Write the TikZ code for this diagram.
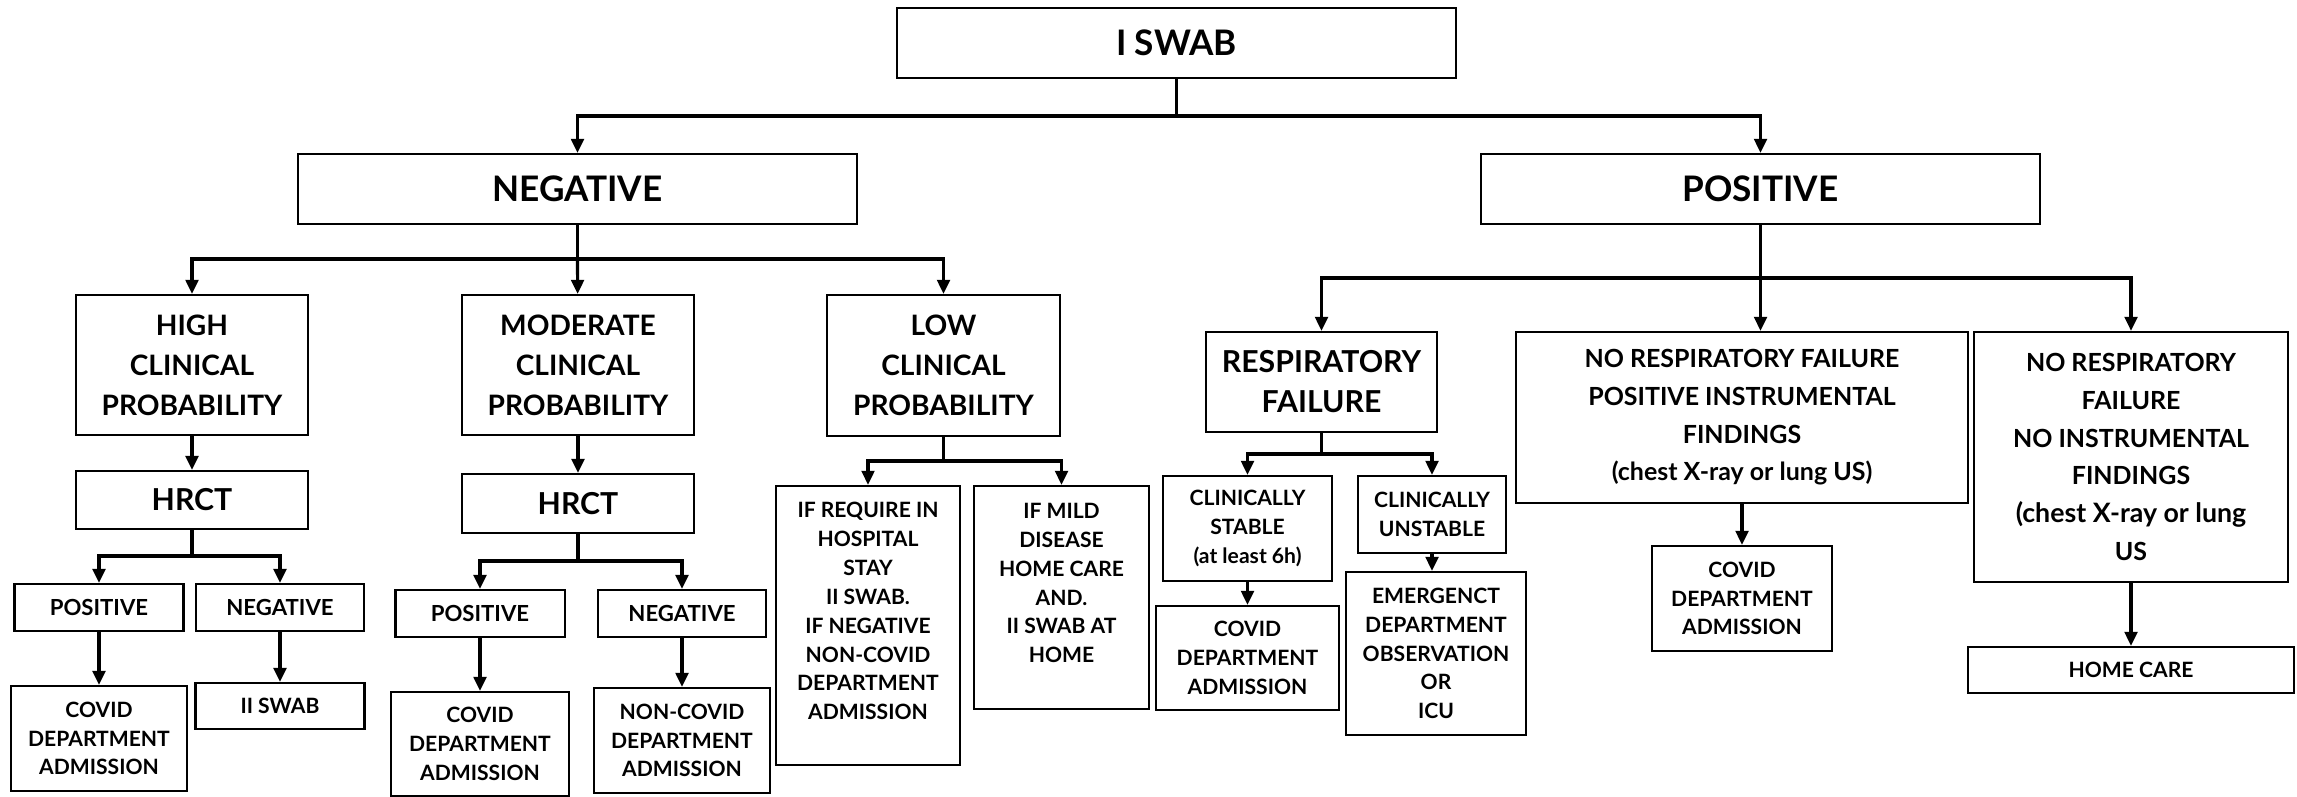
\documentclass[tikz,border=0pt]{standalone}
\usepackage{fontspec}
\setmainfont{Lato}
\usetikzlibrary{arrows.meta}

\begin{document}
\begin{tikzpicture}[x=0.01cm,y=-0.01cm,
    box/.style={draw,line width=0.6pt,align=center,inner sep=1pt},
    bigbox/.style={box,font=\fontsize{10}{12}\selectfont\bfseries},
    probbox/.style={box,font=\fontsize{8}{11.4}\selectfont\bfseries},
    hrctbox/.style={box,font=\fontsize{8.6}{11.4}\selectfont\bfseries},
    findbox/.style={box,font=\fontsize{7.1}{10.7}\selectfont\bfseries},
    resbox/.style={box,font=\fontsize{6.3}{8.2}\selectfont\bfseries},
    smallbox/.style={box,font=\fontsize{6}{8.2}\selectfont\bfseries},
    wire/.style={line width=0.9pt},
    arr/.style={wire,-{Triangle[length=4pt,width=3.6pt]}}]
\useasboundingbox (0,0) rectangle (2297,797);

% first swab
\node[bigbox,minimum width=5.59cm,minimum height=0.70cm] (iswab) at (1176.5,43) {I SWAB};
\node[bigbox,minimum width=5.59cm,minimum height=0.70cm] (neg) at (577.5,189) {NEGATIVE};
\node[bigbox,minimum width=5.59cm,minimum height=0.70cm] (pos) at (1760.5,189) {POSITIVE};

% negative swab
\node[probbox,minimum width=2.31cm,minimum height=1.40cm] (high) at (192,365) {HIGH\\CLINICAL\\PROBABILITY};
\node[probbox,minimum width=2.31cm,minimum height=1.40cm] (moder) at (578,365) {MODERATE\\CLINICAL\\PROBABILITY};
\node[probbox,minimum width=2.33cm,minimum height=1.41cm] (low) at (943.5,365.5) {LOW\\CLINICAL\\PROBABILITY};
\node[hrctbox,minimum width=2.31cm,minimum height=0.58cm] (hrcth) at (192,500) {HRCT};
\node[hrctbox,minimum width=2.31cm,minimum height=0.59cm] (hrctm) at (578,503.5) {HRCT};
\node[resbox,minimum width=1.69cm,minimum height=0.47cm] (posh) at (99,607.5) {POSITIVE};
\node[resbox,minimum width=1.68cm,minimum height=0.47cm] (negh) at (280,607.5) {NEGATIVE};
\node[smallbox,minimum width=1.76cm,minimum height=1.05cm] (covh) at (99,738.5) {COVID\\DEPARTMENT\\ADMISSION};
\node[smallbox,minimum width=1.69cm,minimum height=0.46cm] (swab2) at (280,706) {II SWAB};
\node[resbox,minimum width=1.69cm,minimum height=0.47cm] (posm) at (480,613.5) {POSITIVE};
\node[resbox,minimum width=1.68cm,minimum height=0.47cm] (negm) at (682,613.5) {NEGATIVE};
\node[smallbox,minimum width=1.78cm,minimum height=1.04cm] (covm) at (480,744) {COVID\\DEPARTMENT\\ADMISSION};
\node[smallbox,minimum width=1.76cm,minimum height=1.05cm] (noncov) at (682,740.5) {NON-COVID\\DEPARTMENT\\ADMISSION};
\node[smallbox,minimum width=1.84cm,minimum height=2.79cm] (ifreq) at (868,625.5) {IF REQUIRE IN\\HOSPITAL\\STAY\\II SWAB.\\IF NEGATIVE\\NON-COVID\\DEPARTMENT\\ADMISSION\\~};
\node[smallbox,minimum width=1.75cm,minimum height=2.23cm] (ifmild) at (1061.5,597.5) {IF MILD\\DISEASE\\HOME CARE\\AND.\\II SWAB AT\\HOME\\~};

% positive swab
\node[hrctbox,minimum width=2.31cm,minimum height=1.00cm] (resp) at (1321.5,382) {RESPIRATORY\\FAILURE};
\node[findbox,minimum width=4.51cm,minimum height=1.71cm] (nrpos) at (1742,417.5) {NO RESPIRATORY FAILURE\\POSITIVE INSTRUMENTAL\\FINDINGS\\(chest X-ray or lung US)};
\node[findbox,minimum width=3.14cm,minimum height=2.50cm] (nrno) at (2131,457) {NO RESPIRATORY\\FAILURE\\NO INSTRUMENTAL\\FINDINGS\\\fontsize{7.6}{11.5}\selectfont(chest X-ray or lung\\US};
\node[smallbox,minimum width=1.69cm,minimum height=1.05cm] (stable) at (1247.5,528.5) {CLINICALLY\\STABLE\\(at least 6h)};
\node[smallbox,minimum width=1.48cm,minimum height=0.77cm] (unstable) at (1432,514.5) {CLINICALLY\\UNSTABLE};
\node[smallbox,minimum width=1.83cm,minimum height=1.04cm] (covr) at (1247.5,658) {COVID\\DEPARTMENT\\ADMISSION};
\node[smallbox,minimum width=1.80cm,minimum height=1.63cm] (emerg) at (1436,653.5) {EMERGENCT\\DEPARTMENT\\OBSERVATION\\OR\\ICU};
\node[smallbox,minimum width=1.80cm,minimum height=1.05cm] (covp) at (1742,598.5) {COVID\\DEPARTMENT\\ADMISSION};
\node[smallbox,minimum width=3.25cm,minimum height=0.46cm] (home) at (2131,670) {HOME CARE};

% forks
\coordinate (f0) at (1176.5,116);
\coordinate (f1) at (577.5,259);
\coordinate (f2) at (192,556);
\coordinate (f3) at (578,561);
\coordinate (f4) at (943.5,461);
\coordinate (f5) at (1760.5,278);
\coordinate (f6) at (1321.5,454);

\draw[wire] (iswab) -- (f0);
\draw[arr] (f0) -| (neg);
\draw[arr] (f0) -| (pos);

\draw[wire] (neg) -- (f1);
\draw[arr] (f1) -| (high);
\draw[arr] (f1) -- (moder);
\draw[arr] (f1) -| (low);

\draw[arr] (high) -- (hrcth);
\draw[wire] (hrcth) -- (f2);
\draw[arr] (f2) -| (posh);
\draw[arr] (f2) -| (negh);
\draw[arr] (posh) -- (covh);
\draw[arr] (negh) -- (swab2);

\draw[arr] (moder) -- (hrctm);
\draw[wire] (hrctm) -- (f3);
\draw[arr] (f3) -| (posm);
\draw[arr] (f3) -| (negm);
\draw[arr] (posm) -- (covm);
\draw[arr] (negm) -- (noncov);

\draw[wire] (low) -- (f4);
\draw[arr] (f4) -| (ifreq);
\draw[arr] (f4) -| (ifmild);

\draw[wire] (pos) -- (f5);
\draw[arr] (f5) -| (resp);
\draw[arr] (f5) -- (f5 |- nrpos.north);
\draw[arr] (f5) -| (nrno);

\draw[wire] (resp) -- (f6);
\draw[arr] (f6) -| (stable);
\draw[arr] (f6) -| (unstable);
\draw[arr] (stable) -- (covr);
\draw[arr] (unstable.south) -- (unstable.south |- emerg.north);
\draw[arr] (nrpos) -- (covp);
\draw[arr] (nrno) -- (home);
\end{tikzpicture}
\end{document}
